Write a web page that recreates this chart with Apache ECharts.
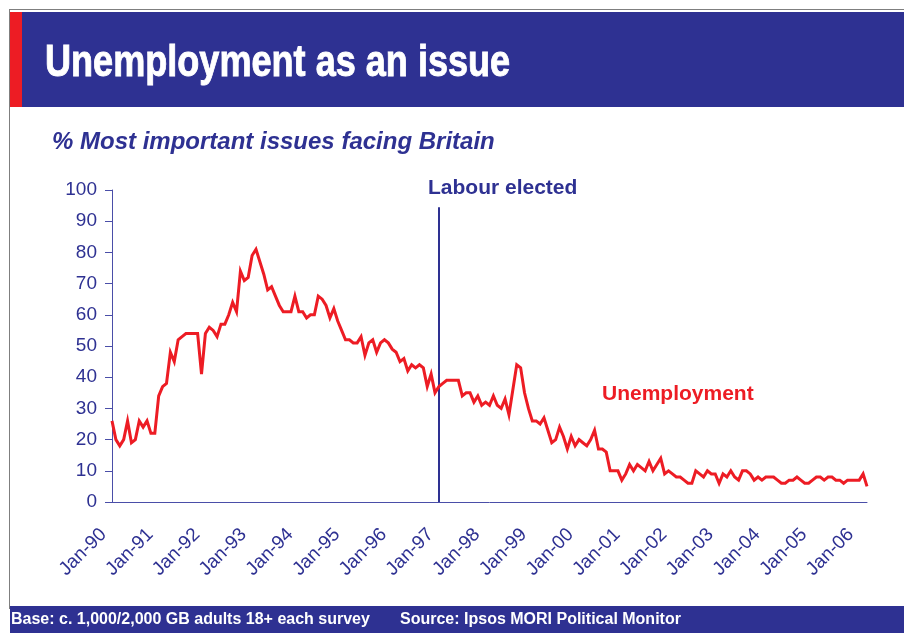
<!DOCTYPE html>
<html>
<head>
<meta charset="utf-8">
<title>Unemployment as an issue</title>
<script src="https://cdn.jsdelivr.net/npm/echarts@6/dist/echarts.min.js"></script>
<style>
  html, body { margin: 0; padding: 0; background: #ffffff; }
  #chart { width: 904px; height: 633px; }
</style>
</head>
<body>
<div id="chart"></div>
<script>
// Monthly survey readings, January 1990 onwards
const startYear = 1990;
const monthNames = ['Jan','Feb','Mar','Apr','May','Jun','Jul','Aug','Sep','Oct','Nov','Dec'];

// % naming unemployment among the most important issues facing Britain
const unemployment = [
  26, 20, 18, 20, 26, 19, 20, 26, 24, 26, 22, 22,   // 1990
  34, 37, 38, 48, 45, 52, 53, 54, 54, 54, 54, 41,   // 1991
  54, 56, 55, 53, 57, 57, 60, 64, 61, 74, 71, 72,   // 1992
  79, 81, 77, 73, 68, 69, 66, 63, 61, 61, 61, 66,   // 1993
  61, 61, 59, 60, 60, 66, 65, 63, 59, 62, 58, 55,   // 1994
  52, 52, 51, 51, 53, 47, 51, 52, 48, 51, 52, 51,   // 1995
  49, 48, 45, 46, 42, 44, 43, 44, 43, 37, 41, 35,   // 1996
  37, 38, 39, 39, 39, 39, 34, 35, 35, 32, 34, 31,   // 1997
  32, 31, 34, 31, 30, 33, 28, 36, 44, 43, 35, 30,   // 1998
  26, 26, 25, 27, 23, 19, 20, 24, 21, 17, 21, 18,   // 1999
  20, 19, 18, 20, 23, 17, 17, 16, 10, 10, 10,  7,   // 2000
   9, 12, 10, 12, 11, 10, 13, 10, 12, 14,  9, 10,   // 2001
   9,  8,  8,  7,  6,  6, 10,  9,  8, 10,  9,  9,   // 2002
   6,  9,  8, 10,  8,  7, 10, 10,  9,  7,  8,  7,   // 2003
   8,  8,  8,  7,  6,  6,  7,  7,  8,  7,  6,  6,   // 2004
   7,  8,  8,  7,  8,  8,  7,  7,  6,  7,  7,  7,   // 2005
   7,  9,  5                                         // 2006
];

// Category labels "Jan-90", "Feb-90", ... one per reading
const months = unemployment.map((_, i) => {
  const y = startYear + Math.floor(i / 12);
  return monthNames[i % 12] + '-' + String(y % 100).padStart(2, '0');
});

// Y axis range and step
const yMin = 0, yMax = 100, yStep = 10;

// Event marker
const eventMonth = 'Jan-97';
const eventLabel = 'Labour elected';
const eventTop = 94.5;

const titleText = 'Unemployment as an issue';
const subtitleText = '% Most important issues facing Britain';
const seriesName = 'Unemployment';
const baseNote = 'Base: c. 1,000/2,000 GB adults 18+ each survey';
const sourceNote = 'Source: Ipsos MORI Political Monitor';

const NAVY = '#2E3192';
const RED = '#ED1C24';
const AXIS = '#4A4EA8';
const FONT = '"Liberation Sans", Arial, sans-serif';

const chart = echarts.init(document.getElementById('chart'), null, { renderer: 'canvas' });

chart.setOption({
  backgroundColor: '#ffffff',
  animation: false,
  grid: { left: 112, right: 37, top: 190, bottom: 131, containLabel: false },
  xAxis: {
    type: 'category',
    data: months,
    boundaryGap: false,
    axisLine: { show: true, lineStyle: { color: AXIS, width: 1 } },
    axisTick: { show: false },
    splitLine: { show: false },
    axisLabel: {
      interval: (idx) => idx % 12 === 0,
      rotate: 45,
      margin: 21,
      padding: [0, 12, 0, 0],
      color: NAVY,
      fontFamily: FONT,
      fontSize: 19
    }
  },
  yAxis: {
    type: 'value',
    min: yMin,
    max: yMax,
    interval: yStep,
    axisLine: { show: true, lineStyle: { color: AXIS, width: 1 } },
    axisTick: { show: true, length: 7, lineStyle: { color: AXIS, width: 1 } },
    splitLine: { show: false },
    axisLabel: { margin: 15, color: NAVY, fontFamily: FONT, fontSize: 19 }
  },
  series: [{
    name: seriesName,
    type: 'line',
    data: unemployment,
    showSymbol: false,
    symbol: 'none',
    lineStyle: { color: RED, width: 3, join: 'miter' },
    z: 3,
    markLine: {
      silent: true,
      symbol: ['none', 'none'],
      label: { show: false },
      lineStyle: { color: NAVY, width: 2, type: 'solid' },
      data: [[
        { coord: [eventMonth, eventTop] },
        { coord: [eventMonth, yMin] }
      ]],
      z: 2
    }
  }],
  graphic: [
    // frame lines
    { type: 'rect', shape: { x: 9, y: 9, width: 900, height: 1 }, style: { fill: '#7f7f7f' }, silent: true },
    { type: 'rect', shape: { x: 9, y: 9, width: 1, height: 600 }, style: { fill: '#7f7f7f' }, silent: true },
    // header bar
    { type: 'rect', shape: { x: 10, y: 12, width: 894, height: 95 }, style: { fill: NAVY }, silent: true },
    { type: 'rect', shape: { x: 10, y: 12, width: 12, height: 95 }, style: { fill: RED }, silent: true },
    {
      type: 'text', x: 45, y: 42, scaleX: 0.82, scaleY: 1,
      style: {
        text: titleText, fill: '#ffffff', align: 'left', verticalAlign: 'top',
        stroke: '#ffffff', lineWidth: 0.9,
        font: 'bold 44px ' + FONT
      }
    },
    {
      type: 'text', left: 52, top: 130,
      style: {
        text: subtitleText, fill: NAVY,
        font: 'italic bold 24px ' + FONT
      }
    },
    {
      type: 'text', left: 428, top: 178,
      style: { text: eventLabel, fill: NAVY, font: 'bold 21px ' + FONT }
    },
    {
      type: 'text', left: 602, top: 384,
      style: { text: seriesName, fill: RED, font: 'bold 21px ' + FONT }
    },
    // footer bar
    { type: 'rect', shape: { x: 10, y: 606, width: 894, height: 27 }, style: { fill: NAVY }, silent: true },
    {
      type: 'text', left: 11, top: 612,
      style: { text: baseNote, fill: '#ffffff', font: 'bold 16px ' + FONT }
    },
    {
      type: 'text', left: 400, top: 612,
      style: { text: sourceNote, fill: '#ffffff', font: 'bold 16px ' + FONT }
    }
  ]
});
</script>
</body>
</html>
